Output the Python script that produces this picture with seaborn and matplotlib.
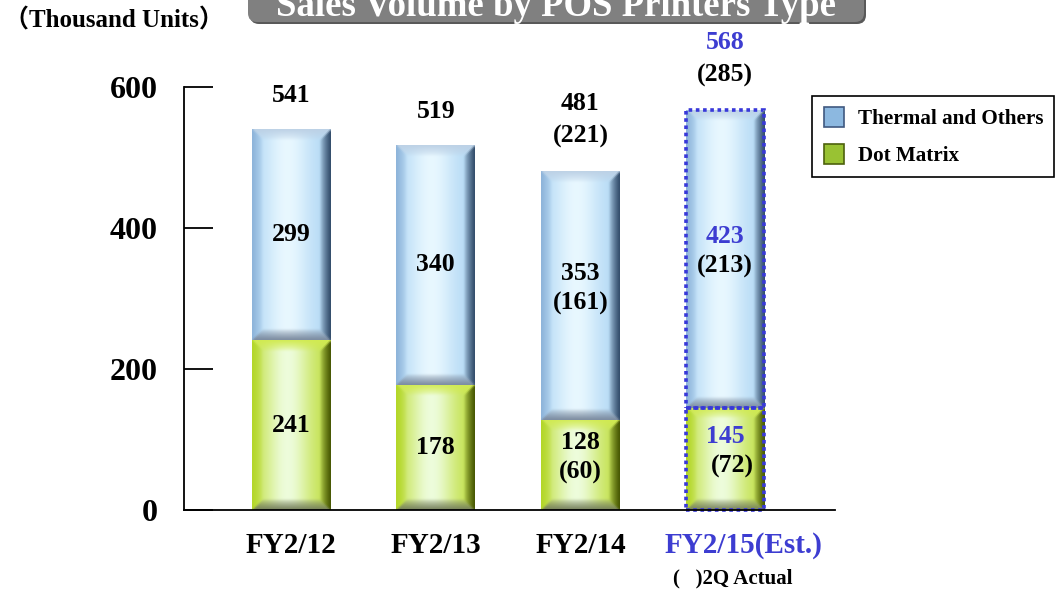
import numpy as np
import pandas as pd
import matplotlib
matplotlib.use("Agg")
import matplotlib.pyplot as plt
import matplotlib.transforms as mtransforms
import seaborn as sns
from matplotlib.patches import Rectangle, FancyBboxPatch, Patch
from matplotlib.legend_handler import HandlerPatch

# ---------------- data ----------------
categories = ["FY2/12", "FY2/13", "FY2/14", "FY2/15(Est.)"]
dot_matrix = [241, 178, 128, 145]
thermal = [299, 340, 353, 423]
totals = [541, 519, 481, 568]
dot_2q = [None, None, 60, 72]
thermal_2q = [None, None, 161, 213]
total_2q = [None, None, 221, 285]
y_ticks = [0, 200, 400, 600]
series_names = ["Thermal and Others", "Dot Matrix"]
title = "Sales Volume by POS Printers Type"
unit_label = "\uff08Thousand Units\uff09"
note_label = "(   )2Q Actual"

# ---------------- style ----------------
sns.set_theme(style="white")
plt.rcParams['font.family'] = ['Liberation Serif', 'Noto Sans CJK JP', 'DejaVu Sans']
plt.rcParams['font.weight'] = 'bold'
plt.rcParams['text.color'] = 'black'
plt.rcParams['xtick.color'] = 'black'
plt.rcParams['ytick.color'] = 'black'
plt.rcParams['axes.labelcolor'] = 'black'

BLUE_TXT = (0.24, 0.24, 0.82)
GREEN = (0.78, 0.88, 0.30)
SKY = (0.72, 0.86, 0.97)

schemes = {
    "thermal": dict(center=(0.91, 0.97, 1.0), edge=(0.70, 0.85, 0.96),
                    left=(0.55, 0.70, 0.85), top=(0.74, 0.82, 0.90),
                    right=(0.18, 0.28, 0.40), bottom=(0.48, 0.54, 0.62)),
    "dot": dict(center=(0.93, 0.99, 0.86), edge=(0.76, 0.88, 0.28),
                left=(0.70, 0.84, 0.15), top=(0.82, 0.92, 0.32),
                right=(0.26, 0.32, 0.0), bottom=(0.46, 0.50, 0.36)),
}


def blur(img, n=2):
    for _ in range(n):
        p = np.pad(img, ((1, 1), (1, 1), (0, 0)), mode="edge")
        img = (p[:-2, 1:-1] + p[2:, 1:-1] + p[1:-1, :-2] + p[1:-1, 2:] + p[1:-1, 1:-1]) / 5.0
    return img


def bevel_image(wpx, hpx, sc, b=11):
    wpx = max(int(round(wpx)), 4)
    hpx = max(int(round(hpx)), 4)
    xs = np.arange(wpx) + 0.5
    ys = np.arange(hpx) + 0.5
    X, Y = np.meshgrid(xs, ys)
    D = np.stack([X, Y, wpx - X, hpx - Y])
    which = D.argmin(0)
    d = D.min(0)
    u = X / wpx
    L = np.exp(-((u - 0.45) / 0.30) ** 2)[..., None]
    face = np.array(sc["edge"]) * (1 - L) + np.array(sc["center"]) * L
    bc = np.array([sc["left"], sc["top"], sc["right"], sc["bottom"]])[which]
    w = (np.clip(1 - d / b, 0, 1) ** 0.7)[..., None]
    img = face * (1 - w) + bc * w
    return np.clip(blur(img, 2), 0, 1)


# ---------------- figure ----------------
fig = plt.figure(figsize=(10.59, 5.93), dpi=100)
ax = fig.add_axes([184 / 1059, 1 - 510 / 593, (835 - 184) / 1059, (510 - 87) / 593])

df = pd.DataFrame({"cat": categories, "dot": dot_matrix, "thermal": thermal})
sns.barplot(data=df, x="cat", y="dot", color=GREEN, width=0.545, ax=ax,
            linewidth=0, edgecolor="none", saturation=1)
sns.barplot(data=df, x="cat", y="thermal", color=SKY, width=0.545, ax=ax,
            linewidth=0, edgecolor="none", saturation=1, bottom=df["dot"].values)

ax.set_xlim(-0.74, 3.76)
ax.set_ylim(0, 600)

n = len(categories)
dot_patches = ax.patches[:n]
th_patches = ax.patches[n:2 * n]

for kind, plist in (("dot", dot_patches), ("thermal", th_patches)):
    for p in plist:
        x0, y0 = p.get_x(), p.get_y()
        w, h = p.get_width(), p.get_height()
        (px0, py0), (px1, py1) = ax.transData.transform([(x0, y0), (x0 + w, y0 + h)])
        img = bevel_image(px1 - px0, py1 - py0, schemes[kind])
        im = ax.imshow(img, extent=(x0, x0 + w, y0, y0 + h), aspect="auto",
                       interpolation="bilinear", zorder=2)
        im.set_clip_path(p)

# dotted outline for the estimate bar
for p in (dot_patches[-1], th_patches[-1]):
    r = Rectangle((p.get_x(), p.get_y()), p.get_width(), p.get_height(), fill=False,
                  edgecolor=(0.22, 0.22, 0.85), linewidth=2.6, linestyle=(0, (1, 1)),
                  zorder=5, clip_on=False)
    ax.add_patch(r)

ax.set_xlim(-0.74, 3.76)
ax.set_ylim(0, 600)

# ---------------- labels ----------------
LBL = 18.5
for i in range(n):
    est = i == n - 1
    main_col = BLUE_TXT if est else "black"
    if total_2q[i] is None:
        ax.annotate(str(totals[i]), (i, totals[i]), xytext=(0, 23.5), textcoords="offset points",
                    ha="center", va="center", fontsize=LBL, fontweight="bold", color=main_col,
                    annotation_clip=False)
    else:
        ax.annotate(str(totals[i]), (i, totals[i]), xytext=(0, 48.5), textcoords="offset points",
                    ha="center", va="center", fontsize=LBL, fontweight="bold", color=main_col,
                    annotation_clip=False)
        ax.annotate(f"({total_2q[i]})", (i, totals[i]), xytext=(0, 24.5), textcoords="offset points",
                    ha="center", va="center", fontsize=LBL, fontweight="bold", color="black",
                    annotation_clip=False)
    for vals, q, base in ((thermal, thermal_2q, dot_matrix), (dot_matrix, dot_2q, None)):
        mid = (base[i] if base is not None else 0) + vals[i] / 2
        if q[i] is None:
            ax.annotate(str(vals[i]), (i, mid), xytext=(0, 0), textcoords="offset points",
                        ha="center", va="center", fontsize=LBL, fontweight="bold",
                        color=main_col, zorder=6)
        else:
            ax.annotate(str(vals[i]), (i, mid), xytext=(0, 16), textcoords="offset points",
                        ha="center", va="center", fontsize=LBL, fontweight="bold",
                        color=main_col, zorder=6)
            dx = 5 if (est and base is None) else 0
            ax.annotate(f"({q[i]})", (i, mid), xytext=(dx, -5.5), textcoords="offset points",
                        ha="center", va="center", fontsize=LBL, fontweight="bold",
                        color="black", zorder=6)

# ---------------- axes styling ----------------
for s in ("top", "right"):
    ax.spines[s].set_visible(False)
for s in ("left", "bottom"):
    ax.spines[s].set_color("black")
    ax.spines[s].set_linewidth(1.3)
    ax.spines[s].set_zorder(7)

ax.set_yticks(y_ticks)
ax.set_yticklabels([str(t) for t in y_ticks], fontsize=23, fontweight="bold", color="black")
ax.tick_params(axis="y", direction="in", length=21, width=1.3, color="black",
               labelcolor="black", pad=19, left=True)
ax.set_xticks(range(n))
ax.set_xticklabels(categories, fontsize=21, fontweight="bold", color="black")
ax.tick_params(axis="x", length=0, pad=16)
ax.set_xlabel("")
ax.set_ylabel("")
xl = ax.get_xticklabels()
xl[-1].set_color(BLUE_TXT)
xl[-1].set_transform(xl[-1].get_transform() +
                     mtransforms.ScaledTranslation(0.18, 0, fig.dpi_scale_trans))


# ---------------- legend ----------------
def square_handle(legend, orig_handle, xdescent, ydescent, width, height, fontsize):
    s = min(width, height)
    return Rectangle((-xdescent + (width - s) / 2, -ydescent + (height - s) / 2), s, s)


handles = [Patch(facecolor=(0.55, 0.72, 0.88), edgecolor=(0.25, 0.35, 0.50), linewidth=1.2),
           Patch(facecolor=(0.60, 0.76, 0.20), edgecolor=(0.30, 0.38, 0.05), linewidth=1.2)]
leg = fig.legend(handles, series_names, loc="upper left",
                 bbox_to_anchor=(812 / 1059, 1 - 96 / 593), bbox_transform=fig.transFigure,
                 borderaxespad=0, frameon=True, fancybox=False, framealpha=1,
                 edgecolor="black", handlelength=1.1, handleheight=1.1,
                 labelspacing=0.72, borderpad=0.5, handletextpad=0.57,
                 prop={"weight": "bold", "size": 15.2},
                 handler_map={Patch: HandlerPatch(patch_func=square_handle)})
leg.get_frame().set_linewidth(1.2)

# ---------------- title & notes ----------------
shadow = FancyBboxPatch((2.50, 5.69), 6.16, 0.5, boxstyle="round,pad=0,rounding_size=0.09",
                        transform=fig.dpi_scale_trans, facecolor=(0.35, 0.35, 0.35),
                        edgecolor="none", zorder=1)
box = FancyBboxPatch((2.48, 5.71), 6.16, 0.5, boxstyle="round,pad=0,rounding_size=0.09",
                     transform=fig.dpi_scale_trans, facecolor=(0.50, 0.50, 0.50),
                     edgecolor="none", zorder=2)
fig.patches.extend([shadow, box])
fig.text(5.56, 5.77, title, transform=fig.dpi_scale_trans, ha="center", va="baseline",
         fontsize=26.5, fontweight="bold", color="white", zorder=3)
fig.text(4 / 1059, 1 - 20 / 593, unit_label, ha="left", va="center",
         fontsize=18, fontweight="bold", color="black")
fig.text(733 / 1059, 1 - 578 / 593, note_label, ha="center", va="center",
         fontsize=15, fontweight="bold", color="black")

fig.savefig("out.png", dpi=100)
